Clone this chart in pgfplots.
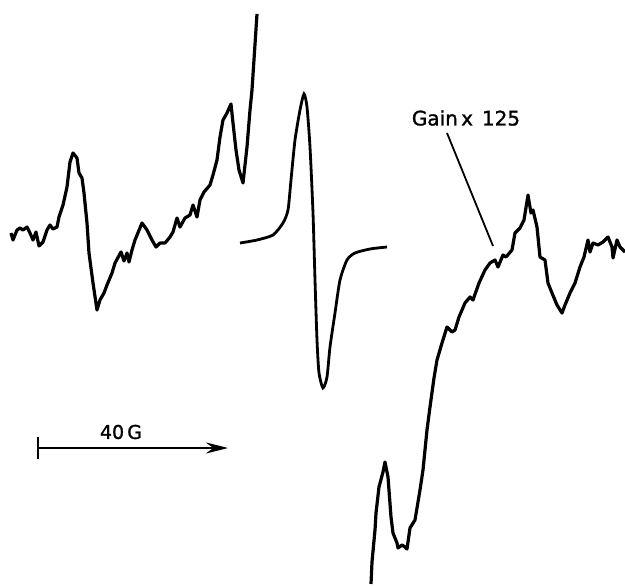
\documentclass[border=0pt]{standalone}
\usepackage{fontspec}
\setmainfont{DejaVu Sans}
\newfontfamily\lbl{DejaVu Sans}[FakeBold=1.3]
\usepackage{pgfplots}
\pgfplotsset{compat=1.18}
\usetikzlibrary{arrows.meta}
\begin{document}
\begin{tikzpicture}
\begin{axis}[
  width=625pt, height=586pt, scale only axis,
  xmin=0, xmax=625, ymin=0, ymax=586, y dir=reverse,
  hide axis,
]
% left trace
\addplot[black, line width=3.2pt, line join=round] coordinates {
(11,233) (13,240) (17,230) (20,228) (23,230) (27,227) (30,233) (33,240)
(36,232) (39,246) (43,242) (47,230) (50,225) (53,229) (57,227) (59,217)
(63,205) (67,187) (70,162) (73,153) (77,158) (79,173) (82,178) (84,193)
(87,223) (89,253) (93,283) (97,310) (100,300) (104,293) (107,285) (112,273)
(115,263) (121,252) (124,261) (127,253) (129,262) (132,250) (135,240) (142,223)
(147,230) (152,240) (156,247) (160,243) (165,243) (170,237) (173,232) (177,218)
(180,227) (185,218) (190,215) (193,205) (197,217) (200,200) (204,192) (210,185)
(213,175) (217,160) (220,137) (223,120) (227,113) (231,104) (233,123) (236,150)
(239,170) (243,183) (247,147) (250,110) (252,90) (257,14)
};
% middle trace
\addplot[black, line width=2.8pt, smooth, tension=0.4] coordinates {
(240,243) (257,240) (273,235) (283,223) (288,210) (291,180) (295,140) (300,110)
(304,94) (307,107) (310,147) (313,213) (315,280) (317,340) (319,373) (323,388)
(327,377) (330,347) (335,313) (340,280) (347,260) (355,253) (370,249) (387,247)
};
% right trace (gain x 125)
\addplot[black, line width=3.2pt, line join=round] coordinates {
(371,584) (372,562) (375,530) (376,513) (379,487) (383,472) (385,462) (388,477)
(391,517) (393,533) (397,543) (398,548) (402,545) (405,547) (407,549) (410,528)
(415,520) (420,490) (423,470) (427,430) (430,407) (434,378) (437,360) (442,343)
(447,327) (452,332) (455,330) (459,317) (465,303) (470,297) (473,300) (479,283)
(485,270) (490,263) (495,260) (498,267) (503,255) (506,257) (512,250) (515,233)
(520,228) (524,220) (528,195) (531,213) (533,210) (537,227) (540,257) (545,260)
(548,283) (552,293) (557,305) (562,313) (565,305) (570,293) (575,283) (580,267)
(584,257) (588,240) (590,252) (593,243) (598,245) (603,242) (608,237) (612,247)
(613,258) (617,240) (620,247) (625,252)
};
% pointer line
\addplot[black, line width=1.8pt] coordinates {(447,133) (493,246)};
% scale bar
\addplot[black, line width=2pt, -{Stealth[length=22pt, width=11pt]}] coordinates {(38,448) (228,448)};
\addplot[black, line width=2.4pt] coordinates {(38,437) (38,459)};
\node[font=\lbl\fontsize{20}{24}\selectfont, anchor=center] at (axis cs:466,118) {Gain\,x\;\,125};
\node[font=\lbl\fontsize{19}{22}\selectfont, anchor=center] at (axis cs:121,432) {40\,G};
\end{axis}
\path (current axis.south west) rectangle (current axis.north east);
\end{tikzpicture}
\end{document}
